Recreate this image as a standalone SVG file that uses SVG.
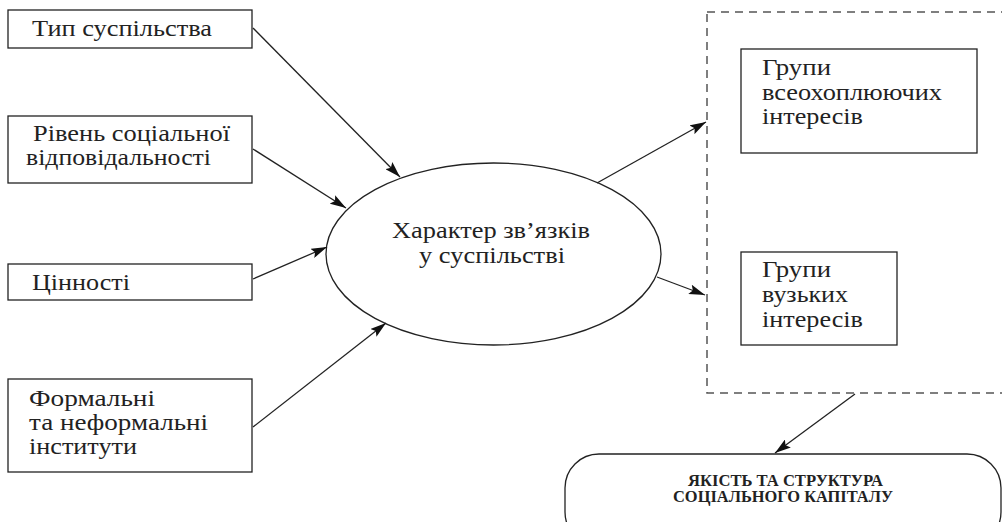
<svg xmlns="http://www.w3.org/2000/svg" width="1002" height="522" viewBox="0 0 1002 522">
<style>
.box{fill:#fff;stroke:#222;stroke-width:1.3}
.t{font-family:"Liberation Serif","Times New Roman",serif;font-size:23.5px;fill:#222}
.b{font-family:"Liberation Serif","Times New Roman",serif;font-size:16px;font-weight:bold;fill:#222}
.c{stroke:#222;stroke-width:1.3;fill:none;marker-end:url(#ah)}
.dash{fill:none;stroke:#555;stroke-width:1.5;stroke-dasharray:8 6}
</style>
<defs>
<marker id="ah" viewBox="0 0 16 10" refX="16" refY="5" markerWidth="16" markerHeight="10" markerUnits="userSpaceOnUse" orient="auto">
<path d="M0,0 L16,5 L0,10 L3,5 Z" fill="#111"/>
</marker>
</defs>
<rect width="1002" height="522" fill="#fff"/>
<g id="group-frame">
<rect class="dash" x="707" y="12" width="310" height="381"/>
</g>
<g id="n1"><rect class="box" x="8" y="10" width="244" height="38"/><text class="t" x="32" y="36" textLength="180" lengthAdjust="spacingAndGlyphs">Тип суспільства</text></g>
<g id="n2"><rect class="box" x="8" y="116" width="244" height="67"/><text class="t" x="33" y="141" textLength="197" lengthAdjust="spacingAndGlyphs">Рівень соціальної</text><text class="t" x="26" y="165" textLength="185" lengthAdjust="spacingAndGlyphs">відповідальності</text></g>
<g id="n3"><rect class="box" x="8" y="264" width="244" height="36"/><text class="t" x="32" y="290" textLength="98" lengthAdjust="spacingAndGlyphs">Цінності</text></g>
<g id="n4"><rect class="box" x="8" y="379" width="244" height="93"/><text class="t" x="29" y="406" textLength="126" lengthAdjust="spacingAndGlyphs">Формальні</text><text class="t" x="29" y="430" textLength="179" lengthAdjust="spacingAndGlyphs">та неформальні</text><text class="t" x="29" y="454" textLength="108" lengthAdjust="spacingAndGlyphs">інститути</text></g>
<g id="center"><ellipse class="box" cx="493.5" cy="254" rx="167.5" ry="91"/><text class="t" x="392" y="238" textLength="198" lengthAdjust="spacingAndGlyphs">Характер зв’язків</text><text class="t" x="419" y="263" textLength="146" lengthAdjust="spacingAndGlyphs">у суспільстві</text></g>
<g id="g1"><rect class="box" x="741" y="49" width="236" height="104"/><text class="t" x="762" y="75" textLength="69" lengthAdjust="spacingAndGlyphs">Групи</text><text class="t" x="762" y="100" textLength="180" lengthAdjust="spacingAndGlyphs">всеохоплюючих</text><text class="t" x="762" y="124" textLength="101" lengthAdjust="spacingAndGlyphs">інтересів</text></g>
<g id="g2"><rect class="box" x="741" y="252" width="156" height="93"/><text class="t" x="762" y="277" textLength="69" lengthAdjust="spacingAndGlyphs">Групи</text><text class="t" x="762" y="302" textLength="86" lengthAdjust="spacingAndGlyphs">вузьких</text><text class="t" x="762" y="327" textLength="101" lengthAdjust="spacingAndGlyphs">інтересів</text></g>
<g id="result"><rect class="box" x="565" y="454" width="436" height="92" rx="34" ry="34"/><text class="b" x="688" y="486" textLength="195" lengthAdjust="spacingAndGlyphs">ЯКІСТЬ ТА СТРУКТУРА</text><text class="b" x="673" y="502" textLength="220" lengthAdjust="spacingAndGlyphs">СОЦІАЛЬНОГО КАПІТАЛУ</text></g>
<g id="connectors">
<line class="c" x1="253" y1="28" x2="400" y2="177"/>
<line class="c" x1="253" y1="149" x2="346" y2="208"/>
<line class="c" x1="253" y1="279" x2="327" y2="247"/>
<line class="c" x1="253" y1="427" x2="386" y2="323"/>
<line class="c" x1="597" y1="183" x2="706" y2="122"/>
<line class="c" x1="657" y1="277" x2="705" y2="295"/>
<line class="c" x1="855" y1="394" x2="775" y2="453"/>
</g>
</svg>
